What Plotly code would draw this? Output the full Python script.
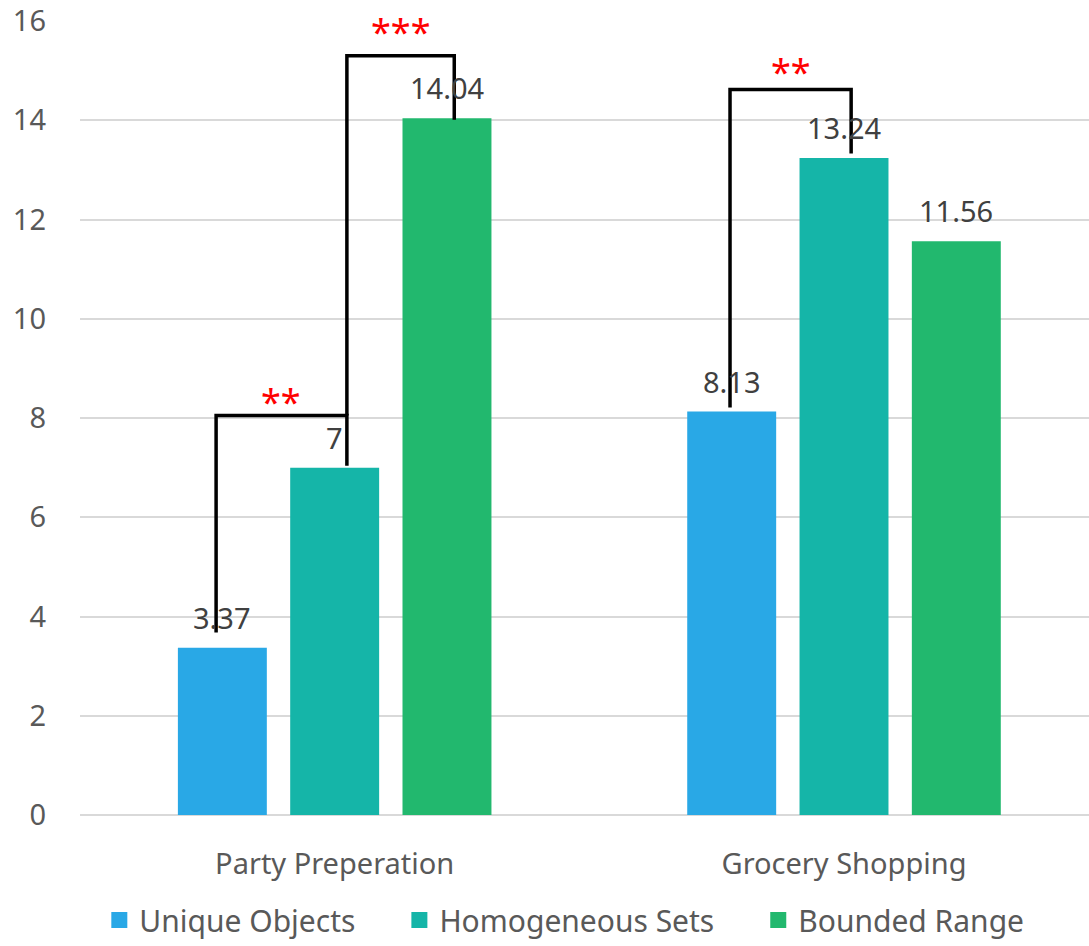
import plotly.graph_objects as go

categories = ["Party Preperation", "Grocery Shopping"]
series_names = ["Unique Objects", "Homogeneous Sets", "Bounded Range"]
unique_objects = [3.37, 8.13]
homogeneous_sets = [7, 13.24]
bounded_range = [14.04, 11.56]
y_ticks = [0, 2, 4, 6, 8, 10, 12, 14, 16]

# significance brackets: (category index, left series, right series, left foot, top, right foot, label, label y)
brackets = [
    (0, 0, 1, 3.68, 8.05, 7.04, "**", 8.33),
    (0, 1, 2, 8.05, 15.3, 14.01, "***", 15.78),
    (1, 0, 1, 8.21, 14.62, 13.33, "**", 14.98),
]

colors = ["#29A8E6", "#15B5A8", "#22B86E"]
all_series = [unique_objects, homogeneous_sets, bounded_range]
xpos = list(range(len(categories)))
FONT = "Noto Sans"
slot = 0.2208

fig = go.Figure()
for si, (name, vals, col) in enumerate(zip(series_names, all_series, colors)):
    fig.add_trace(go.Bar(
        x=xpos, y=vals, name=name, marker=dict(color=col, line=dict(width=0)),
        showlegend=False,
    ))
    # value labels
    for ci, v in enumerate(vals):
        fig.add_annotation(x=ci + (si - 1) * slot, y=v, xref="x", yref="y", text=f"{v:g}",
                           showarrow=False, yanchor="bottom", yshift=9,
                           font=dict(size=29, color="#404040", family=FONT))

# legend entries
pad = "&nbsp;" * 5
for i, (name, col) in enumerate(zip(series_names, colors)):
    fig.add_trace(go.Scatter(
        x=[None], y=[None], mode="markers", name=name + (pad if i < len(series_names) - 1 else ""),
        marker=dict(symbol="square", size=20, color=col, line=dict(width=0)), showlegend=True,
    ))

nudge = {0: -0.012, 1: 0.024, 2: 0.014}
for ci, s1, s2, yl, yt, yr, lab, ly in brackets:
    if ci == 0:
        xl = ci + (s1 - 1) * slot + nudge[s1]
        xr = ci + (s2 - 1) * slot + nudge[s2]
    else:
        xl = ci + (s1 - 1) * slot - 0.003
        xr = ci + (s2 - 1) * slot + 0.014
    fig.add_shape(type="path", path=f"M {xl} {yl} L {xl} {yt} L {xr} {yt} L {xr} {yr}",
                  xref="x", yref="y", line=dict(color="black", width=3.5))
    fig.add_annotation(x=(xl + xr) / 2, y=ly, xref="x", yref="y", text=lab, showarrow=False,
                       font=dict(size=36, color="red", family=FONT), yanchor="middle")

fig.update_layout(
    width=1089, height=946,
    margin=dict(l=80, r=0, t=21, b=130),
    paper_bgcolor="white", plot_bgcolor="white",
    barmode="group", bargap=0.3385, bargroupgap=0.208,
    font=dict(family=FONT, color="#595959"),
    showlegend=True,
    legend=dict(orientation="h", x=0.48, xanchor="center", y=-0.1325, yanchor="middle",
                font=dict(size=30, color="#595959"), traceorder="normal", itemsizing="trace"),
    xaxis=dict(range=[-0.5, 1.481], tickvals=xpos, ticktext=categories, showgrid=False,
               zeroline=False, showline=False, ticks="", tickfont=dict(size=29, color="#595959"),
               ticklabelstandoff=29, automargin=False),
    yaxis=dict(range=[0, 16], tickvals=y_ticks, showgrid=True, gridcolor="#D9D9D9", gridwidth=1.5,
               zeroline=True, zerolinecolor="#D9D9D9", zerolinewidth=1.5, showline=False, ticks="",
               tickfont=dict(size=29, color="#595959"), ticklabelstandoff=33, automargin=False),
)

fig.write_html("out.html")
